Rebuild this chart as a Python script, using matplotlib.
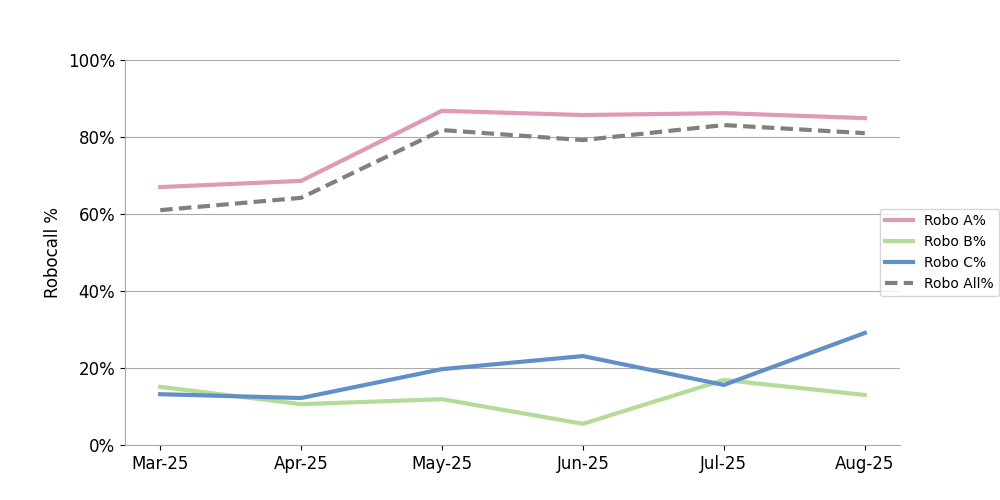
import matplotlib
matplotlib.use("Agg")
import matplotlib.pyplot as plt
from matplotlib.ticker import PercentFormatter

months = ["Mar-25", "Apr-25", "May-25", "Jun-25", "Jul-25", "Aug-25"]
robo_a = [0.670, 0.686, 0.868, 0.857, 0.862, 0.849]
robo_b = [0.151, 0.106, 0.119, 0.055, 0.169, 0.130]
robo_c = [0.132, 0.122, 0.197, 0.231, 0.156, 0.291]
robo_all = [0.610, 0.642, 0.818, 0.792, 0.831, 0.810]

fig = plt.figure(figsize=(10, 5), dpi=100)
ax = fig.add_axes([0.125, 0.11, 0.775, 0.77])
x = range(len(months))
ax.plot(x, robo_a, color="#df9ab8", lw=3, label="Robo A%")
ax.plot(x, robo_b, color="#b5dc97", lw=3, label="Robo B%")
ax.plot(x, robo_c, color="#6190c8", lw=3, label="Robo C%")
ax.plot(x, robo_all, color="#808080", lw=3, ls=(0, (3, 1.5)), label="Robo All%")
ax.set_xticks(list(x))
ax.set_xticklabels(months, fontsize=12)
ax.set_xlim(-0.25, 5.25)
ax.set_ylim(0, 1)
ax.set_yticks([0, 0.2, 0.4, 0.6, 0.8, 1.0])
ax.yaxis.set_major_formatter(PercentFormatter(1.0, decimals=0))
ax.tick_params(axis="y", labelsize=12)
ax.set_ylabel("Robocall %", fontsize=12)
ax.grid(axis="y", color="#aaaaaa", lw=0.8)
ax.set_axisbelow(True)
for s in ["top", "right"]:
    ax.spines[s].set_visible(False)
for s in ["left", "bottom"]:
    ax.spines[s].set_color("#aaaaaa")
ax.legend(loc="center left", bbox_to_anchor=(0.965, 0.5), fontsize=10)
fig.savefig("out.png")
